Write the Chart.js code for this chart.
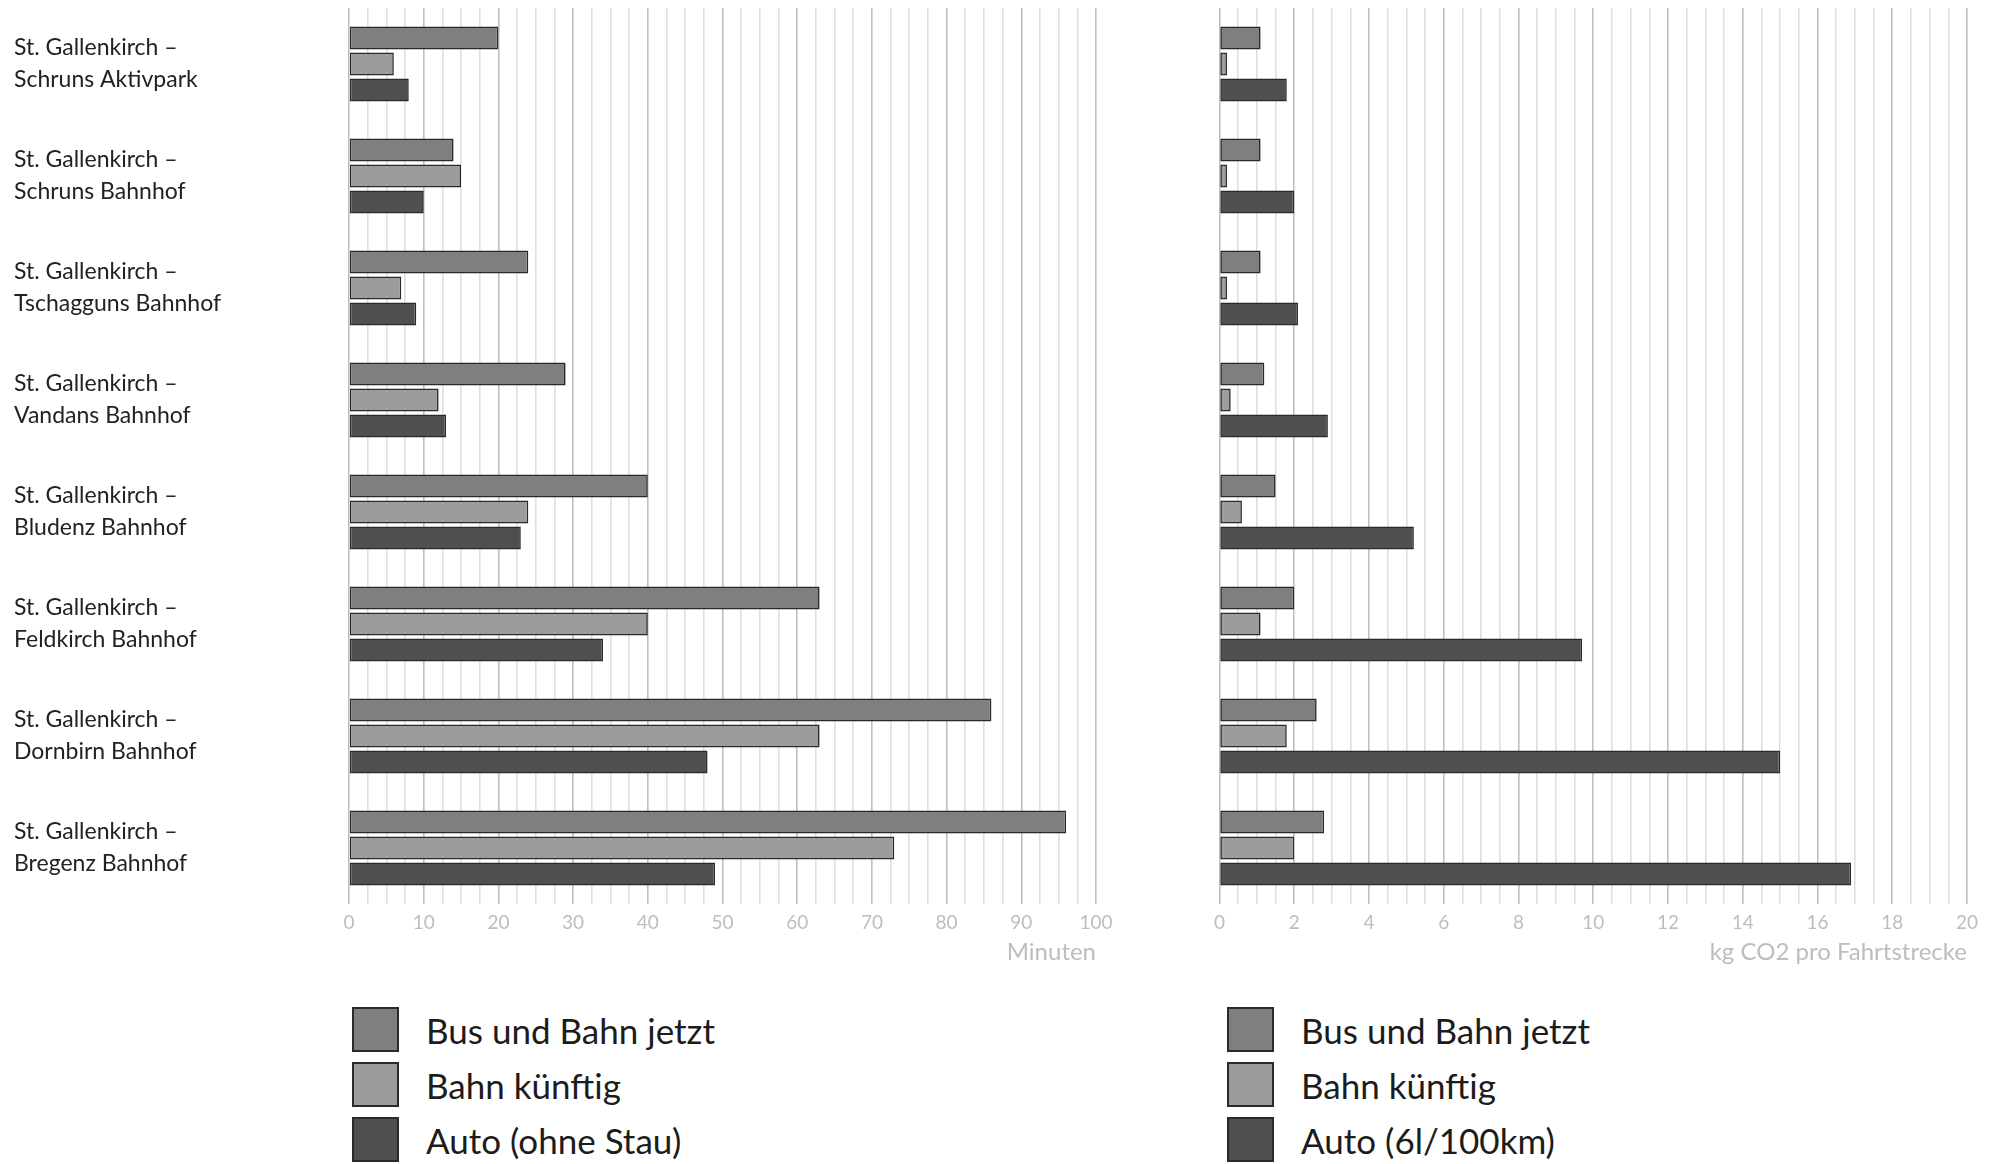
<!DOCTYPE html>
<html lang="de">
<head>
    <meta charset="UTF-8">
    <title>Fahrzeit und CO2 – St. Gallenkirch</title>
    <script src="https://cdn.jsdelivr.net/npm/chart.js"></script>
    <style>
        body { margin: 0; background: #fff; width: 1999px; height: 1164px; position: relative; overflow: hidden; font-family: Lato, "Open Sans", sans-serif; }
        canvas { position: absolute; top: 0; }
        #timeChart { left: 0; }
        #co2Chart { left: 1200px; }
        .legend { position: absolute; top: 1007px; }
        .legend .item { position: relative; height: 55px; }
        .legend .box { position: absolute; left: 0; top: 0; width: 43px; height: 41px; border: 2px solid #2a2a2a; }
        .legend .txt { position: absolute; left: 74px; top: -1px; font-size: 35px; line-height: 48px; color: #1c1c1c; white-space: nowrap; }
    </style>
</head>
<body>
    <canvas id="timeChart" width="1130" height="980"></canvas>
    <canvas id="co2Chart" width="799" height="980"></canvas>
    <div class="legend" id="legendLeft" style="left:352px"></div>
    <div class="legend" id="legendRight" style="left:1227px"></div>

    <script>
// Strecken (Kategorien)
const categories = [
    ['St. Gallenkirch –', 'Schruns Aktivpark'],
    ['St. Gallenkirch –', 'Schruns Bahnhof'],
    ['St. Gallenkirch –', 'Tschagguns Bahnhof'],
    ['St. Gallenkirch –', 'Vandans Bahnhof'],
    ['St. Gallenkirch –', 'Bludenz Bahnhof'],
    ['St. Gallenkirch –', 'Feldkirch Bahnhof'],
    ['St. Gallenkirch –', 'Dornbirn Bahnhof'],
    ['St. Gallenkirch –', 'Bregenz Bahnhof']
];

// Fahrzeit in Minuten
const minBusBahn = [20, 14, 24, 29, 40, 63, 86, 96];
const minBahnKuenftig = [6, 15, 7, 12, 24, 40, 63, 73];
const minAuto = [8, 10, 9, 13, 23, 34, 48, 49];

// kg CO2 pro Fahrtstrecke
const co2BusBahn = [1.1, 1.1, 1.1, 1.2, 1.5, 2.0, 2.6, 2.8];
const co2BahnKuenftig = [0.2, 0.2, 0.2, 0.3, 0.6, 1.1, 1.8, 2.0];
const co2Auto = [1.8, 2.0, 2.1, 2.9, 5.2, 9.7, 15.0, 16.9];

const timeSeriesNames = ['Bus und Bahn jetzt', 'Bahn künftig', 'Auto (ohne Stau)'];
const co2SeriesNames = ['Bus und Bahn jetzt', 'Bahn künftig', 'Auto (6l/100km)'];
const seriesColors = ['#7f7f7f', '#9c9c9c', '#4f4f4f'];

const tickGrey = '#bdbdbd';

function makeDatasets(names, arrays) {
    return names.map((name, i) => ({
        label: name,
        data: arrays[i],
        backgroundColor: seriesColors[i],
        borderColor: '#2a2a2a',
        borderWidth: 1.6,
        borderSkipped: false,
        categoryPercentage: 0.696,
        barPercentage: 0.885
    }));
}

function xScale(max, step, major, title) {
    return {
        min: 0,
        max: max,
        border: { display: false },
        grid: {
            drawTicks: false,
            lineWidth: 1.6,
            color: ctx => (ctx.tick && Math.abs(ctx.tick.value % major) < 1e-6) ? '#bfbfbf' : '#dfdfdf'
        },
        ticks: {
            stepSize: step,
            autoSkip: false,
            maxRotation: 0,
            padding: 7,
            color: tickGrey,
            font: { family: 'Lato', size: 19 },
            callback: v => (Math.abs(v % major) < 1e-6) ? String(v) : ''
        },
        title: {
            display: true,
            text: title,
            align: 'end',
            color: tickGrey,
            font: { family: 'Lato', size: 24 },
            padding: { top: 0, bottom: 13 }
        },
        afterFit: scale => {
            scale.height = 76;
            scale.paddingLeft = 0;
            scale.paddingRight = 0;
        }
    };
}

// Diagramm Fahrzeit
new Chart(document.getElementById('timeChart'), {
    type: 'bar',
    data: {
        labels: categories,
        datasets: makeDatasets(timeSeriesNames, [minBusBahn, minBahnKuenftig, minAuto])
    },
    options: {
        indexAxis: 'y',
        responsive: false,
        animation: false,
        devicePixelRatio: 1,
        layout: { padding: { left: 14, top: 8, right: 34, bottom: 0 } },
        plugins: { legend: { display: false }, tooltip: { enabled: false } },
        scales: {
            x: xScale(100, 2.5, 10, 'Minuten'),
            y: {
                border: { display: false },
                grid: { display: false },
                ticks: {
                    crossAlign: 'far',
                    color: '#222',
                    font: { family: 'Lato', size: 23, lineHeight: 1.39 }
                },
                afterFit: scale => {
                    scale.width = 335;
                    scale.paddingTop = 0;
                    scale.paddingBottom = 0;
                }
            }
        }
    }
});

// Diagramm CO2
new Chart(document.getElementById('co2Chart'), {
    type: 'bar',
    data: {
        labels: categories,
        datasets: makeDatasets(co2SeriesNames, [co2BusBahn, co2BahnKuenftig, co2Auto])
    },
    options: {
        indexAxis: 'y',
        responsive: false,
        animation: false,
        devicePixelRatio: 1,
        layout: { padding: { left: 19.5, top: 8, right: 32, bottom: 0 } },
        plugins: { legend: { display: false }, tooltip: { enabled: false } },
        scales: {
            x: xScale(20, 0.5, 2, 'kg CO2 pro Fahrtstrecke'),
            y: { display: false }
        }
    }
});

// Legenden
function buildLegend(id, names) {
    const el = document.getElementById(id);
    names.forEach((name, i) => {
        const item = document.createElement('div');
        item.className = 'item';
        item.innerHTML = '<div class="box" style="background:' + seriesColors[i] + '"></div>' +
                         '<div class="txt">' + name + '</div>';
        el.appendChild(item);
    });
}
buildLegend('legendLeft', timeSeriesNames);
buildLegend('legendRight', co2SeriesNames);
    </script>
</body>
</html>
